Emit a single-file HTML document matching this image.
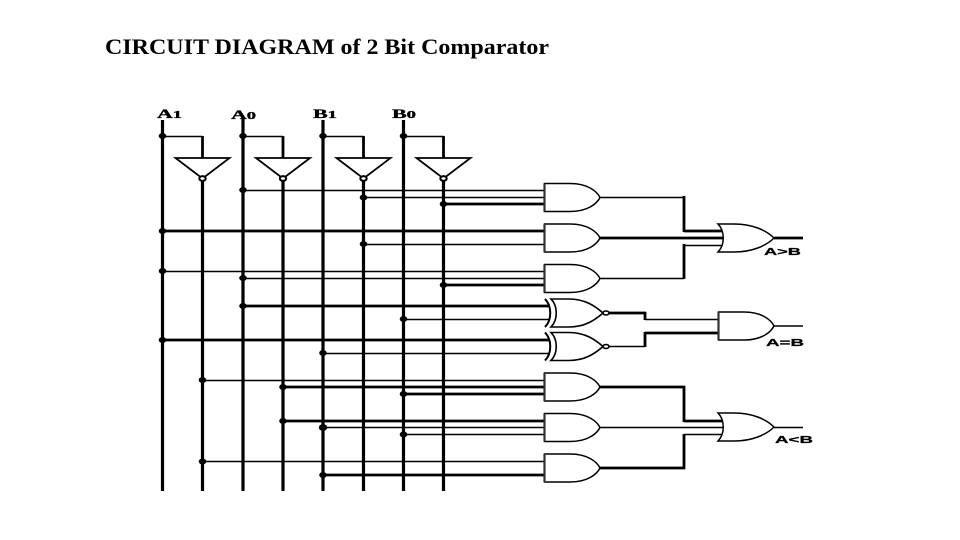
<!DOCTYPE html>
<html>
<head>
<meta charset="utf-8">
<style>
html,body{margin:0;padding:0;background:#fff;}
svg{display:block;}
.t{stroke:#000;stroke-width:1.5;fill:none;}
.k{stroke:#000;stroke-width:2.7;fill:none;}
.v{stroke:#000;stroke-width:3.2;fill:none;}
.g{stroke:#000;stroke-width:1.5;fill:#fff;}
.l{font-family:"Liberation Serif",serif;font-weight:bold;fill:#000;stroke:#000;stroke-width:.35;}
.s{font-family:"Liberation Sans",sans-serif;font-weight:bold;fill:#000;font-size:10.5px;stroke:#000;stroke-width:.25;}
</style>
</head>
<body>
<svg width="960" height="540" viewBox="0 0 960 540" xmlns="http://www.w3.org/2000/svg">
<defs>
<path id="and" d="M544.5 0 H570 C588 0 597 8 600 14 C597 20 588 28 570 28 H544.5 Z"/>
<path id="or" d="M718 224 H734 C752 224 766 230 774 238 C766 246 752 252 734 252 H718 C725 245 725 231 718 224 Z"/>
<g id="xn">
<path class="k" style="stroke-width:2" d="M545 -14 C552 -7 552 7 545 14"/>
<path class="g" style="stroke-width:1.6" d="M551 -14 H569 C585 -14 595 -7 603 0 C595 7 585 14 569 14 H551 C558 7 558 -7 551 -14 Z"/>
<ellipse cx="606" cy="0" rx="3" ry="2" fill="#fff" stroke="#000" stroke-width="1.6"/>
</g>
<g id="inv">
<path class="g" style="stroke-width:1.8" d="M-27 0 H27 L2 19 H-2 Z"/>
<ellipse cx="0" cy="20.5" rx="3.2" ry="2.4" fill="#fff" stroke="#000" stroke-width="2"/>
</g>
</defs>

<text x="105" y="54" font-family="'Liberation Serif',serif" font-weight="bold" font-size="22.5" textLength="444" lengthAdjust="spacingAndGlyphs" fill="#000">CIRCUIT DIAGRAM of 2 Bit Comparator</text>

<!-- input labels -->
<text class="l" x="157" y="118" font-size="13" textLength="25" lengthAdjust="spacingAndGlyphs">A<tspan font-size="11">1</tspan></text>
<text class="l" x="231" y="119" font-size="13" textLength="25" lengthAdjust="spacingAndGlyphs">A<tspan font-size="11">0</tspan></text>
<text class="l" x="313" y="118" font-size="13" textLength="24" lengthAdjust="spacingAndGlyphs">B<tspan font-size="11">1</tspan></text>
<text class="l" x="392" y="118" font-size="13" textLength="24" lengthAdjust="spacingAndGlyphs">B<tspan font-size="11">0</tspan></text>

<!-- verticals -->
<g class="v">
<path d="M162.5 120V491M202.5 178V491M243 118V491M283 178V491M323 120V491M363.5 178V491M403.5 120V491M443.5 178V491"/>
</g>
<!-- inverter feeds -->
<g class="t">
<path d="M162.5 136.5H202.5M243 136.5H283M323 136.5H363.5M403.5 136.5H443.5"/>
</g>
<g class="v" style="stroke-width:2.8">
<path d="M202.5 136V158M283 136V158M363.5 136V158M443.5 136V158"/>
</g>
<use href="#inv" x="202.5" y="158"/>
<use href="#inv" x="283" y="158"/>
<use href="#inv" x="363.5" y="158"/>
<use href="#inv" x="443.5" y="158"/>

<!-- thin horizontals -->
<g class="t">
<path d="M243 190.5H544M363.5 197.5H544M363.5 244.5H544M162.5 271.5H544M243 278.5H544M403.5 319.5H550M323 353.5H550M202.5 380.5H544M323 427.5H544M403.5 434.5H544M202.5 461.5H544"/>
</g>
<!-- thick horizontals -->
<g class="k">
<path d="M443.5 204H544M162.5 231H544M443.5 285H544M243 306H550M162.5 340H550M283 387H544M403.5 394H544M283 421H544M323 475H544"/>
</g>
<!-- dots -->
<g fill="#000">
<ellipse cx="162.5" cy="136" rx="3.8" ry="3"/><ellipse cx="243" cy="136" rx="3.8" ry="3"/><ellipse cx="323" cy="136" rx="3.8" ry="3"/><ellipse cx="403.5" cy="136" rx="3.8" ry="3"/>
<ellipse cx="243" cy="190" rx="3.8" ry="3"/><ellipse cx="363.5" cy="197.5" rx="3.8" ry="3"/><ellipse cx="443.5" cy="204" rx="3.8" ry="3"/>
<ellipse cx="162.5" cy="231" rx="3.8" ry="3"/><ellipse cx="363.5" cy="244" rx="3.8" ry="3"/><ellipse cx="162.5" cy="271" rx="3.8" ry="3"/>
<ellipse cx="243" cy="278" rx="3.8" ry="3"/><ellipse cx="443.5" cy="285" rx="3.8" ry="3"/><ellipse cx="243" cy="306" rx="3.8" ry="3"/>
<ellipse cx="403.5" cy="319" rx="3.8" ry="3"/><ellipse cx="162.5" cy="340" rx="3.8" ry="3"/><ellipse cx="323" cy="353" rx="3.8" ry="3"/>
<ellipse cx="202.5" cy="380" rx="3.8" ry="3"/><ellipse cx="283" cy="387" rx="3.8" ry="3"/><ellipse cx="403.5" cy="394" rx="3.8" ry="3"/>
<ellipse cx="283" cy="421" rx="3.8" ry="3"/><ellipse cx="323" cy="427.5" rx="4.2" ry="3.4"/><ellipse cx="403.5" cy="434.5" rx="3.8" ry="3"/>
<ellipse cx="202.5" cy="461.5" rx="3.8" ry="3"/><ellipse cx="323" cy="475" rx="3.8" ry="3"/>
</g>

<!-- output wiring -->
<g class="t">
<path d="M600 197.5H684M600 278.5H684M684 245.5H724M600 427.5H724M684 434.5H724M774 427.5H803"/>
<path d="M645 319.5H718M609 346.5H645M774 326H803"/>
</g>
<g class="k">
<path d="M684 231H722M600 238H726M600 387H685M684 421H722M600 468H685M645 333H718M609 313H646M774 238H803"/>
</g>
<g class="v" style="stroke-width:2.8">
<path d="M684 196V232M684 244V279M684 386V422M684 434V469M645 312V320M645 332V347"/>
</g>

<!-- gates -->
<g class="g">
<use href="#and" y="183.5"/>
<use href="#and" y="224"/>
<use href="#and" y="264.5"/>
<use href="#and" y="373"/>
<use href="#and" y="413.5"/>
<use href="#and" y="454"/>
<use href="#and" x="174" y="312"/>
<use href="#or"/>
<use href="#or" y="189"/>
</g>
<path d="M544.5 183.5V211.5M544.5 224V252M544.5 264.5V292.5M544.5 373V401M544.5 413.5V441.5M544.5 454V482M718.5 312V340" stroke="#333" stroke-width="2.2" fill="none"/>
<use href="#xn" y="313"/>
<use href="#xn" y="346.5"/>

<!-- output labels -->
<text class="s" x="764" y="255" textLength="37" lengthAdjust="spacingAndGlyphs">A&gt;B</text>
<text class="s" x="766" y="346" textLength="38" lengthAdjust="spacingAndGlyphs">A=B</text>
<text class="s" x="775" y="443" textLength="38" lengthAdjust="spacingAndGlyphs">A&lt;B</text>
</svg>
</body>
</html>
